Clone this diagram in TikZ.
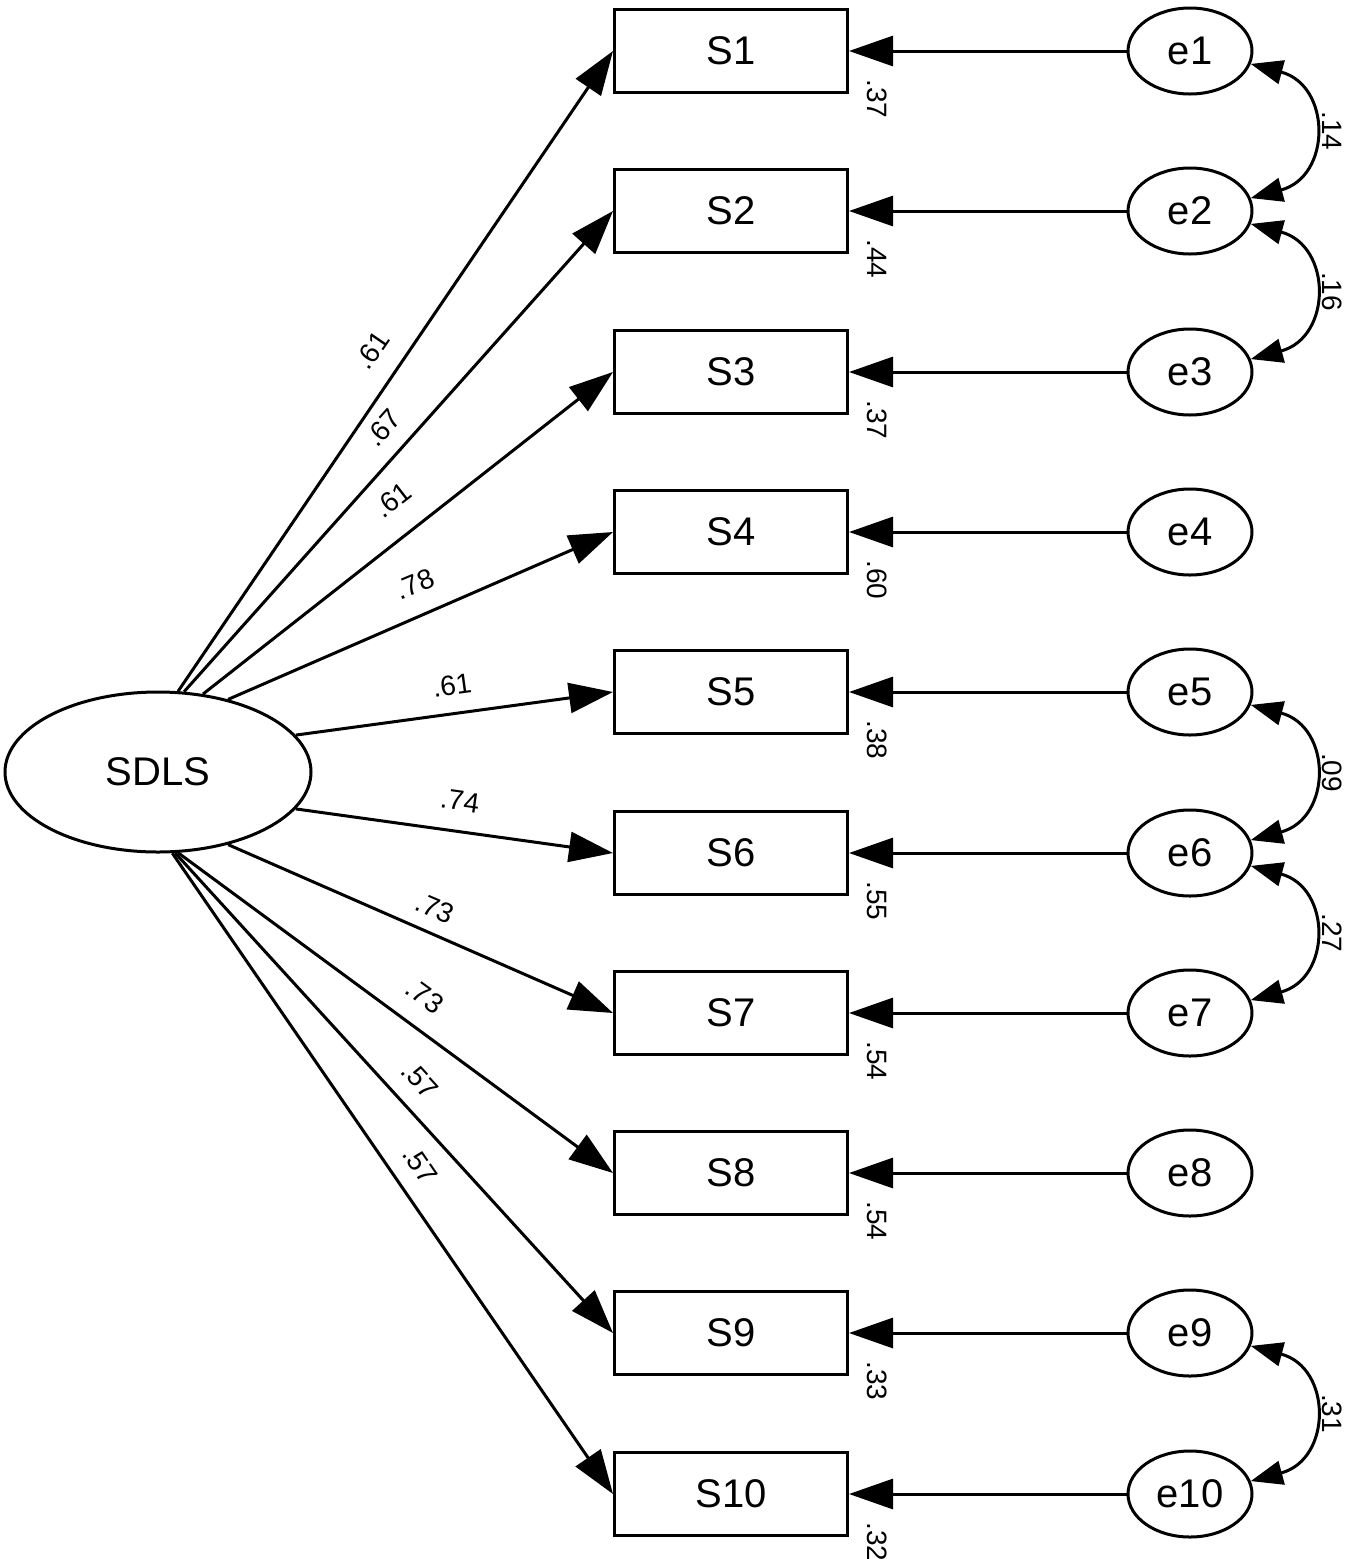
\documentclass[tikz,border=0pt]{standalone}
\usepackage{fontspec}
\setmainfont{Liberation Sans}
\usetikzlibrary{arrows.meta,shapes.geometric,calc}
\begin{document}
\begin{tikzpicture}[x=1pt,y=-1pt,
  line width=3pt,
  obs/.style={draw,rectangle,minimum width=233pt,minimum height=83pt,inner sep=0pt,font=\fontsize{40}{48}\selectfont},
  err/.style={draw,ellipse,minimum width=124pt,minimum height=86pt,inner sep=0pt,font=\fontsize{40}{48}\selectfont},
  arr/.style={-{Triangle[length=44pt,width=30pt]}},
  cov/.style={{Triangle[length=32pt,width=24pt]}-{Triangle[length=32pt,width=24pt]}},
  lab/.style={font=\fontsize{28}{30}\selectfont,inner sep=0pt},
  rlab/.style={font=\fontsize{28}{30}\selectfont,rotate=-90,inner sep=0pt}]
\useasboundingbox (0,0) rectangle (1355,1559);
\node[draw,ellipse,minimum width=306pt,minimum height=160pt,inner sep=0pt,font=\fontsize{40}{48}\selectfont] (F) at (158,772) {SDLS};
\foreach \i/\y/\r in {1/51/.37,2/211/.44,3/372/.37,4/532/.60,5/692/.38,6/853/.55,7/1013/.54,8/1173/.54,9/1333/.33,10/1494/.32}{
  \node[obs] (S\i) at (731,\y) {S\i};
  \node[err] (e\i) at (1190,\y) {e\i};
  \draw[arr] (e\i) -- (S\i);
  \node[rlab] (r\i) at (877,\y+48) {\r};
}
\foreach \i/\a in {1/76,2/72,3/60,4/46,5/15,6/-15,7/-46,8/-76,9/-78,10/-80}{
  \draw[arr] (F.\a) -- (S\i.west);
}
\foreach \i/\x/\y/\r/\l in {1/372/350/55.6/.61,2/383/428/48.2/.67,3/393/500/37.8/.61,4/415/584/22.8/.78,5/452/685/7.8/.61,6/460/801/-7.8/.74,7/435/908/-23/.73,8/425/996/-35.9/.73,9/420/1080/-47.5/.57,10/420/1165/-55.6/.57}{
  \node[lab,rotate=\r] (l\i) at (\x,\y) {\l};
}
\foreach \a/\b/\l in {1/2/.14,2/3/.16,5/6/.09,6/7/.27,9/10/.31}{
  \draw[cov] (e\a.-12) to[out=-15,in=15,looseness=1.6] (e\b.12);
  \node[rlab] (c\a) at ($ (e\a)!0.5!(e\b) + (142,0) $) {\l};
}
\end{tikzpicture}
\end{document}
